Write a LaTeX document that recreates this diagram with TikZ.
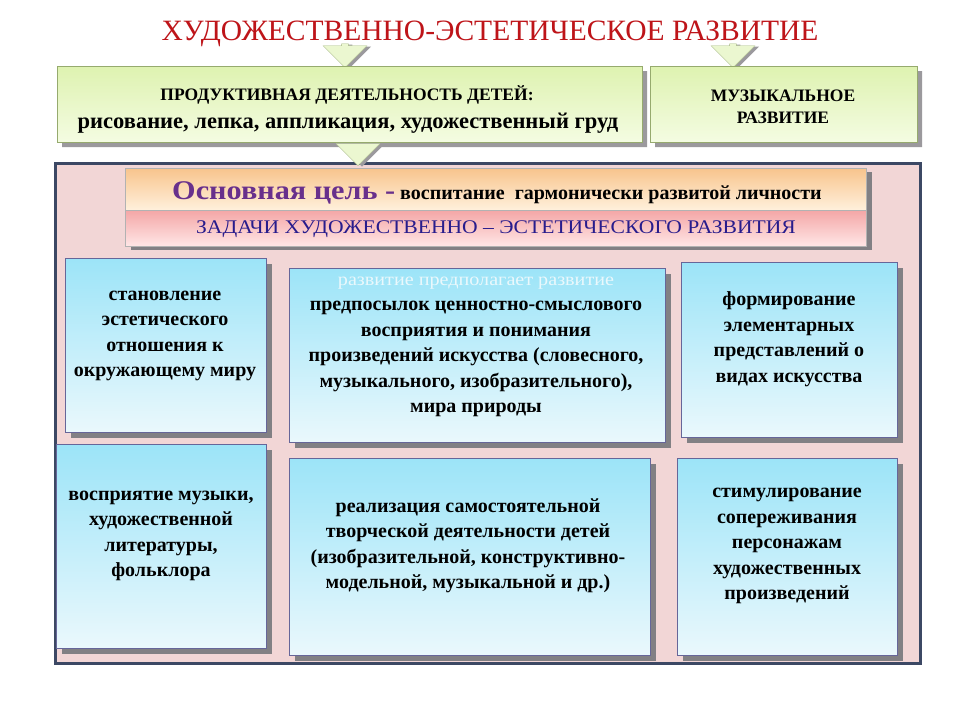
\documentclass[tikz,border=0pt]{standalone}
\usepackage{fontspec}
\setmainfont{Liberation Serif}
\newfontfamily\widefont[FakeStretch=1.12]{Liberation Serif}
\usetikzlibrary{shapes.misc,shapes.arrows,shadows}
\definecolor{titlered}{RGB}{190,20,25}
\definecolor{greentop}{RGB}{222,242,176}
\definecolor{greenbot}{RGB}{244,252,226}
\definecolor{greenline}{RGB}{150,170,110}
\definecolor{panelpink}{RGB}{242,214,214}
\definecolor{panelline}{RGB}{60,72,100}
\definecolor{orangetop}{RGB}{248,196,140}
\definecolor{orangebot}{RGB}{255,240,220}
\definecolor{pinktop}{RGB}{244,166,166}
\definecolor{pinkbot}{RGB}{255,230,230}
\definecolor{bluetop}{RGB}{156,228,248}
\definecolor{bluebot}{RGB}{234,248,252}
\definecolor{shadowgray}{RGB}{130,128,132}
\definecolor{goalpurple}{RGB}{104,48,140}
\definecolor{taskblue}{RGB}{40,28,140}
\begin{document}
\begin{tikzpicture}[x=1pt, y=-1pt,
  greenbox/.style={chamfered rectangle, chamfered rectangle corners={north west,north east},
    chamfered rectangle xsep=6pt, chamfered rectangle ysep=6pt,
    draw=greenline, top color=greentop, bottom color=greenbot, inner sep=0pt,
    general shadow={fill=shadowgray!80, shadow xshift=5pt, shadow yshift=-5pt}},
  downarrow/.style={single arrow, shape border rotate=270, draw=greenline!80, fill=greentop!60,
    minimum height=24pt, minimum width=44pt, single arrow head extend=12pt, inner sep=2pt,
    general shadow={fill=shadowgray!80, shadow xshift=4pt, shadow yshift=-1pt}},
  band/.style={rectangle, draw=gray!60, inner sep=0pt, minimum width=741pt,
    general shadow={fill=shadowgray, shadow xshift=6pt, shadow yshift=-4pt}},
  taskbox/.style={rectangle, draw=gray!80!blue, line width=0.8pt, top color=bluetop,
    bottom color=bluebot, inner sep=0pt,
    general shadow={fill=shadowgray, shadow xshift=6pt, shadow yshift=-6pt}},
  tasktext/.style={align=center, font=\bfseries\fontsize{20}{25.5}\selectfont}]
\useasboundingbox[fill=white] (0,0) rectangle (960,720);

% title and the two branches
\node[text=titlered, font=\fontsize{29.5}{32}\selectfont] (title) at (490,34)
  {ХУДОЖЕСТВЕННО-ЭСТЕТИЧЕСКОЕ РАЗВИТИЕ};
\node[downarrow] (arrowa) at (345,54) {};
\node[downarrow] (arrowb) at (733,54) {};

\node[greenbox, minimum width=585pt, minimum height=76pt] (prod) at (349.5,104) {};
\node[font=\bfseries\fontsize{17.5}{20}\selectfont] (prodhead) at (347,95)
  {ПРОДУКТИВНАЯ ДЕЯТЕЛЬНОСТЬ ДЕТЕЙ:};
\node[font=\bfseries\fontsize{22.5}{25}\selectfont] (prodlist) at (348,123)
  {рисование, лепка, аппликация, художественный груд};

\node[greenbox, minimum width=267pt, minimum height=76pt] (music) at (783.5,104) {};
\node[align=center, font=\bfseries\fontsize{17.5}{22}\selectfont] (musictext) at (783,107)
  {МУЗЫКАЛЬНОЕ\\РАЗВИТИЕ};

% main panel
\node[rectangle, draw=panelline, line width=3pt, fill=panelpink, minimum width=865pt,
  minimum height=500pt] (panel) at (487.5,413) {};
\node[downarrow, minimum height=22pt] (arrowc) at (358,153) {};

\node[band, minimum height=42pt, top color=orangetop, bottom color=orangebot] (goal) at (495.5,189) {};
\node[font=\bfseries\fontsize{20}{22}\selectfont, anchor=base] (goaltext) at (497,199)
  {\textcolor{goalpurple}{\widefont\fontsize{27}{30}\selectfont Основная цель -} воспитание \ гармонически развитой личности};
\node[band, minimum height=36pt, top color=pinktop, bottom color=pinkbot] (tasks) at (495.5,228) {};
\node[text=taskblue, font=\widefont\fontsize{19.3}{22}\selectfont] (taskstext) at (496,229)
  {ЗАДАЧИ ХУДОЖЕСТВЕННО – ЭСТЕТИЧЕСКОГО РАЗВИТИЯ};

% task boxes, upper row
\node[taskbox, minimum width=201pt, minimum height=174pt] (boxa) at (165.5,345) {};
\node[tasktext] (texta) at (165,336)
  {становление\\эстетического\\отношения к\\окружающему миру};

\node[taskbox, minimum width=376pt, minimum height=174pt] (boxb) at (477,355) {};
\node[text=bluebot, font=\widefont\fontsize{18}{20}\selectfont] (faintb) at (476,283)
  {развитие предполагает развитие};
\node[tasktext] (textb) at (476,359)
  {предпосылок ценностно-смыслового\\восприятия и понимания\\произведений искусства (словесного,\\музыкального, изобразительного),\\мира природы};

\node[taskbox, minimum width=216pt, minimum height=175pt] (boxc) at (789,349.5) {};
\node[tasktext] (textc) at (789,339)
  {формирование\\элементарных\\представлений о\\видах искусства};

% task boxes, lower row
\node[taskbox, minimum width=210pt, minimum height=204pt] (boxd) at (161,546) {};
\node[tasktext] (textd) at (161,536)
  {восприятие музыки,\\художественной\\литературы,\\фольклора};

\node[taskbox, minimum width=361pt, minimum height=197pt] (boxe) at (469.5,556.5) {};
\node[tasktext] (texte) at (468,546)
  {реализация самостоятельной\\творческой деятельности детей\\(изобразительной, конструктивно-\\модельной, музыкальной и др.)};

\node[taskbox, minimum width=220pt, minimum height=197pt] (boxf) at (787,556.5) {};
\node[tasktext] (textf) at (787,546)
  {стимулирование\\сопереживания\\персонажам\\художественных\\произведений};
\end{tikzpicture}
\end{document}
